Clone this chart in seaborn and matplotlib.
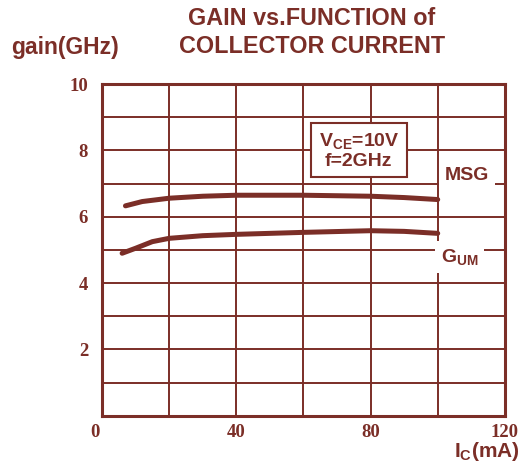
import numpy as np
import pandas as pd
import matplotlib
matplotlib.use('Agg')
import matplotlib.pyplot as plt
import matplotlib.transforms as mtransforms
import seaborn as sns

BROWN = '#7B2E27'

# collector current (mA) and gain readings
msg_ic = [7, 12, 20, 30, 40, 60, 80, 90, 100]
msg_gain = [6.33, 6.46, 6.56, 6.62, 6.65, 6.65, 6.62, 6.58, 6.52]
gum_ic = [6, 10, 15, 20, 30, 40, 60, 80, 90, 100]
gum_gain = [4.9, 5.05, 5.25, 5.35, 5.43, 5.47, 5.53, 5.58, 5.56, 5.5]

x_ticks = [0, 40, 80, 120]
y_ticks = [2, 4, 6, 8, 10]

df = pd.concat([
    pd.DataFrame({'ic': msg_ic, 'gain': msg_gain, 'curve': 'MSG'}),
    pd.DataFrame({'ic': gum_ic, 'gain': gum_gain, 'curve': 'GUM'}),
])

sns.set_style('white')
plt.rcParams['font.family'] = ['Liberation Sans', 'DejaVu Sans']
plt.rcParams['mathtext.default'] = 'regular'

fig = plt.figure(figsize=(5.27, 4.65), dpi=100)
ax = fig.add_axes([0.1935, 0.106, 0.7645, 0.713])

sns.lineplot(data=df, x='ic', y='gain', units='curve', estimator=None,
             color=BROWN, lw=3.6, ax=ax, zorder=3, solid_capstyle='round')

ax.set_xlim(0, 120)
ax.set_ylim(0, 10)
ax.set_xticks(x_ticks)
ax.set_xticks([20, 60, 100], minor=True)
ax.set_yticks(y_ticks)
ax.set_yticks([1, 3, 5, 7, 9], minor=True)
ax.grid(which='both', color=BROWN, lw=1.4)
ax.tick_params(which='both', length=0, colors=BROWN, labelsize=13.5)
ax.tick_params(axis='x', pad=6)
ax.tick_params(axis='y', pad=10)
for lab in ax.get_xticklabels() + ax.get_yticklabels():
    lab.set_family('Liberation Serif')
    lab.set_fontweight('bold')
# shift the "0" label slightly left like the original
zero = ax.get_xticklabels()[0]
zero.set_transform(zero.get_transform() + mtransforms.ScaledTranslation(-5 / 72, 0, fig.dpi_scale_trans))
for s in ax.spines.values():
    s.set_color(BROWN)
    s.set_linewidth(2.2)
ax.set_xlabel('')
ax.set_ylabel('')

ax.text(76.5, 8.0, 'V$_{CE}$=10V\nf=2GHz', ha='center', va='center',
        fontsize=14, fontweight='bold', color=BROWN, linespacing=1.1, zorder=4,
        bbox=dict(boxstyle='square,pad=0.4', fc='white', ec=BROWN, lw=1.5))
ax.text(102, 7.25, 'MSG', ha='left', va='center', fontsize=14, fontweight='bold',
        color=BROWN, zorder=4,
        bbox=dict(boxstyle='square,pad=0.3', fc='white', ec='none'))
ax.text(101, 4.79, 'G$_{UM}$', ha='left', va='center', fontsize=14, fontweight='bold',
        color=BROWN, zorder=4,
        bbox=dict(boxstyle='square,pad=0.3', fc='white', ec='none'))

fig.text(0.592, 0.93, 'GAIN vs.FUNCTION of\nCOLLECTOR CURRENT', ha='center', va='center',
         fontsize=16.8, fontweight='bold', color=BROWN, linespacing=1.3)
fig.text(0.022, 0.897, 'gain(GHz)', ha='left', va='center', fontsize=16.5,
         fontweight='bold', color=BROWN)
fig.text(0.987, 0.028, 'I$_C$(mA)', ha='right', va='center', fontsize=15,
         fontweight='bold', color=BROWN)

fig.savefig('out.png', dpi=100, facecolor='white')
